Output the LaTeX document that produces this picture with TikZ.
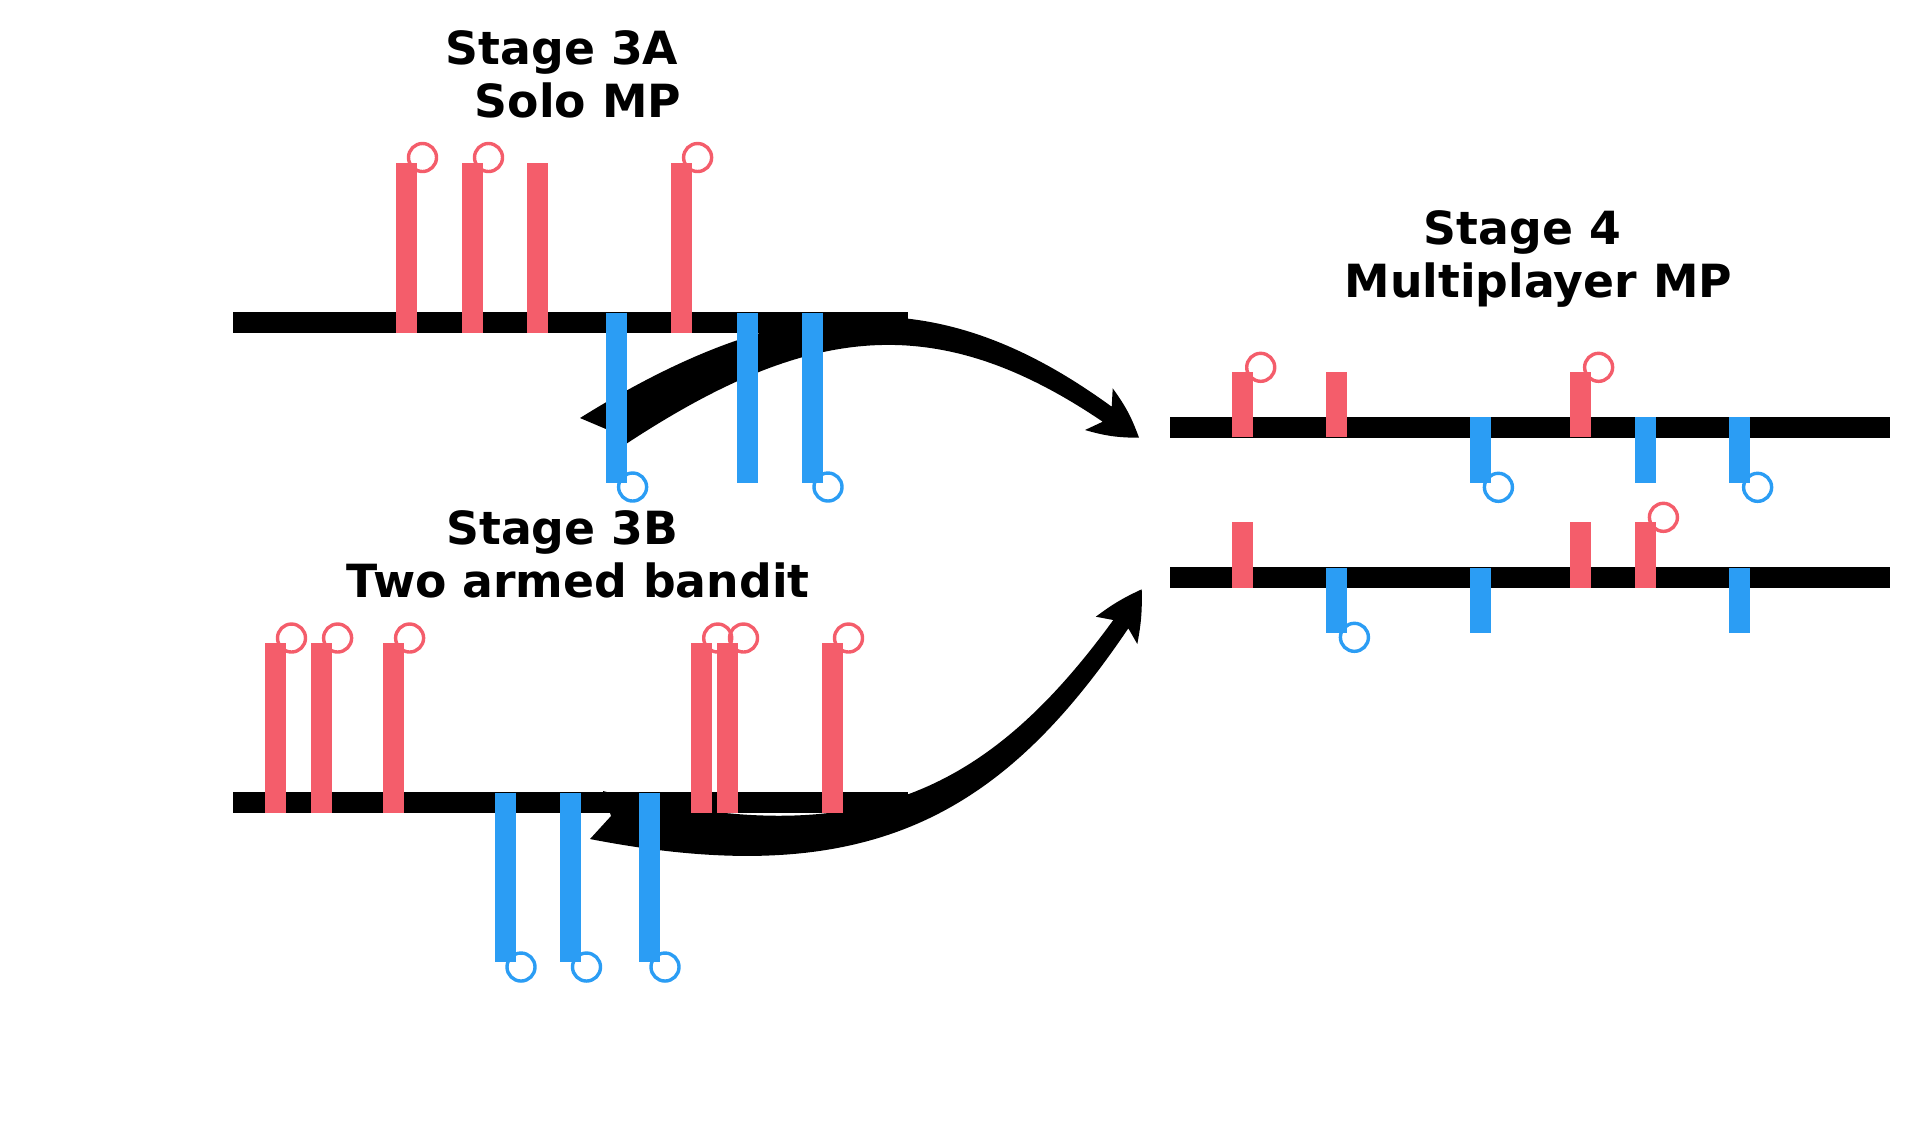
\documentclass[tikz,border=0pt]{standalone}
\usepackage{fontspec}
\setmainfont{DejaVu Sans}
\usetikzlibrary{positioning}
\definecolor{stageRed}{HTML}{F45D6B}
\definecolor{stageBlue}{HTML}{2B9DF4}
\begin{document}
\begin{tikzpicture}[x=0.01cm, y=-0.01cm,
    timeline/.style={line width=5.8pt},
    redBar/.style={stageRed, line width=5.97pt},
    blueBar/.style={stageBlue, line width=5.97pt},
    redRing/.style={draw=stageRed, line width=0.97pt},
    blueRing/.style={draw=stageBlue, line width=0.97pt},
    stageTitle/.style={font=\fontsize{13}{14.9}\selectfont\bfseries, align=center,
                       inner sep=0pt, anchor=base}]
    \useasboundingbox (0,0) rectangle (1919,1120);

    \coordinate (aStart) at (233,322.5);
    \coordinate (aEnd) at (907.5,322.5);
    \coordinate (bStart) at (233,802.5);
    \coordinate (bEnd) at (908,802.5);
    \coordinate (cStart) at (1170,427.3);
    \coordinate (cEnd) at (1890,427.3);
    \coordinate (dStart) at (1170,577.5);
    \coordinate (dEnd) at (1890,577.5);
    \coordinate (upTail) at (580,418);
    \coordinate (upTip) at (1139,437.7);
    \coordinate (lowTail) at (590,839);
    \coordinate (lowTip) at (1141.7,589.3);

    \fill (upTail) .. controls (801,280.2) and (949.7,288.7) .. (1111.7,406.7)
        -- (1112.7,388.3) to[bend left=8] (upTip) to[bend left=8] (1085,430)
        -- (1102.7,421.7) .. controls (935,308) and (807.4,325) .. (627,443.3)
        -- (609,455) -- (613,432) -- cycle;
    \fill (lowTail) .. controls (864.4,892.2) and (999.5,819.2) .. (1128.3,628.3)
        -- (1137.3,644) to[bend right=6] (lowTip) to[bend right=6] (1095.8,616.7)
        -- (1113.3,620) .. controls (983.5,798.2) and (855.2,853.4) .. (603,791)
        -- (611,816) -- cycle;

    \draw[timeline] (aStart) -- (aEnd);
    \draw[timeline] (bStart) -- (bEnd);
    \draw[timeline] (cStart) -- (cEnd);
    \draw[timeline] (dStart) -- (dEnd);

    \foreach \x in {406.5, 472.5, 537.6, 681.6}
        \draw[redBar] (\x,332.5) -- (\x,162.5);
    \foreach \x in {406.5, 472.5, 681.6}
        \draw[redRing] ({\x+16},157.5) circle[radius=0.14cm];
    \foreach \x in {616.6, 747, 812}
        \draw[blueBar] (\x,312.5) -- (\x,482.5);
    \foreach \x in {616.6, 812}
        \draw[blueRing] ({\x+16},487) circle[radius=0.14cm];

    \foreach \x in {275.5, 321.6, 393.6, 701.7, 727.5, 832.5} {
        \draw[redBar] (\x,812.5) -- (\x,642.5);
        \draw[redRing] ({\x+16},638) circle[radius=0.14cm];
    }
    \foreach \x in {505, 570.5, 649} {
        \draw[blueBar] (\x,792.5) -- (\x,962);
        \draw[blueRing] ({\x+16},967) circle[radius=0.14cm];
    }

    \foreach \x in {1242.7, 1336.6, 1580.6}
        \draw[redBar] (\x,437.3) -- (\x,372);
    \foreach \x in {1242.7, 1580.6}
        \draw[redRing] ({\x+18},367.3) circle[radius=0.14cm];
    \foreach \x in {1480.4, 1645.6, 1739.6}
        \draw[blueBar] (\x,417.3) -- (\x,482.7);
    \foreach \x in {1480.4, 1739.6}
        \draw[blueRing] ({\x+18},487.3) circle[radius=0.14cm];

    \foreach \x in {1242.7, 1580.6, 1645.6}
        \draw[redBar] (\x,587.5) -- (\x,522);
    \draw[redRing] (1663.4,517.3) circle[radius=0.14cm];
    \foreach \x in {1336.6, 1480.4, 1739.6}
        \draw[blueBar] (\x,567.5) -- (\x,632.7);
    \draw[blueRing] (1354.4,637.3) circle[radius=0.14cm];

    \node[stageTitle] (titleA) at (578,117.3) {Stage 3A\hspace*{0.32cm}\\Solo MP};
    \node[stageTitle] (titleB) at (578.2,597.3) {Stage 3B\hspace*{0.32cm}\\Two armed bandit};
    \node[stageTitle] (titleC) at (1538.3,297.3) {Stage 4\hspace*{0.32cm}\\Multiplayer MP};
\end{tikzpicture}
\end{document}
